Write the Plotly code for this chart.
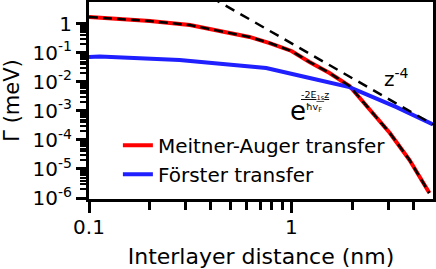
import plotly.graph_objects as go

# ---- data ----
red_x = [0.1, 0.2, 0.315, 0.5, 0.62, 0.78, 0.9, 1.0, 1.227, 1.541, 1.934, 2.436, 3.06, 3.83, 4.8]
red_y = [1.70, 1.24, 0.90, 0.48, 0.35, 0.216, 0.15, 0.115, 0.048, 0.0201, 7.2e-3, 1.07e-3, 1.73e-4, 2.03e-5, 1.49e-6]

blue_x = [0.1, 0.113, 0.28, 0.75, 1.23, 1.541, 1.934, 3.30, 4.8, 5.0]
blue_y = [0.0714, 0.074, 0.056, 0.030, 0.0136, 0.0098, 0.0066, 0.00135, 3.8e-4, 3.4e-4]

fit_x = red_x
fit_y = red_y

z4_x = [0.4, 5.0]
z4_y = [8.2, 3.4e-4]

x_tickvals = [0.1, 1]
x_ticktext = ["0.1", "1"]
y_tickvals = [1e-6, 1e-5, 1e-4, 1e-3, 1e-2, 1e-1, 1]
y_ticktext = ["10<sup>-6</sup>", "10<sup>-5</sup>", "10<sup>-4</sup>", "10<sup>-3</sup>",
              "10<sup>-2</sup>", "10<sup>-1</sup>", "1"]
x_minor = [0.2, 0.3, 0.4, 0.5, 0.6, 0.7, 0.8, 0.9, 2, 3, 4]
y_minor = [m * 10.0 ** e for e in range(-6, 0) for m in range(2, 10)]

FONT = "DejaVu Sans"

fig = go.Figure()
fig.add_trace(go.Scatter(x=red_x, y=red_y, mode="lines", name="Meitner-Auger transfer",
                         line=dict(color="#ff0000", width=4)))
fig.add_trace(go.Scatter(x=blue_x, y=blue_y, mode="lines", name="Förster transfer",
                         line=dict(color="#1f1fff", width=4)))
fig.add_trace(go.Scatter(x=fit_x, y=fit_y, mode="lines", showlegend=False,
                         line=dict(color="black", width=2.5, dash="9px,5px")))
fig.add_trace(go.Scatter(x=z4_x, y=z4_y, mode="lines", showlegend=False,
                         line=dict(color="black", width=2.5, dash="10px,7px")))

fig.add_annotation(x=0.5185, y=-1.869, xref="x", yref="y", text="z<sup>-4</sup>",
                   showarrow=False, font=dict(family=FONT, size=20, color="black"))
fig.add_annotation(x=0.030, y=-2.99, xref="x", yref="y", text="e",
                   showarrow=False, font=dict(family=FONT, size=26, color="black"))
fig.add_annotation(x=0.1165, y=-2.46, xref="x", yref="y", text="<u>-2E<sub>1s</sub>z</u>",
                   showarrow=False, font=dict(family=FONT, size=9.5, color="black"))
fig.add_annotation(x=0.111, y=-2.87, xref="x", yref="y", text="ħv<sub>F</sub>",
                   showarrow=False, font=dict(family=FONT, size=9.5, color="black"))

fig.update_layout(
    width=436, height=269,
    margin=dict(l=89, r=3, t=2, b=70, autoexpand=False),
    paper_bgcolor="white", plot_bgcolor="white",
    font=dict(family=FONT, size=20, color="black"),
    showlegend=True,
    legend=dict(x=0.084, y=0.372, xanchor="left", yanchor="top", tracegroupgap=0,
                bgcolor="rgba(0,0,0,0)", font=dict(family=FONT, size=20, color="black")),
)
fig.update_xaxes(type="log", range=[-1, 0.699], automargin=False,
                 tickvals=x_tickvals, ticktext=x_ticktext,
                 ticks="outside", ticklen=11, tickwidth=2.5, tickcolor="black",
                 ticklabelstandoff=-3,
                 showline=True, linewidth=3, linecolor="black", mirror=True,
                 showgrid=False, zeroline=False,
                 tickfont=dict(family=FONT, size=20),
                 minor=dict(tickvals=x_minor, ticks="outside", ticklen=8, tickwidth=2.5,
                            tickcolor="black", showgrid=False),
                 title=dict(text="Interlayer distance (nm)", font=dict(family=FONT, size=22)))
fig.update_yaxes(type="log", range=[-6.034, 0.747], automargin=False,
                 tickvals=y_tickvals, ticktext=y_ticktext,
                 ticks="outside", ticklen=10, tickwidth=2.5, tickcolor="black",
                 showline=True, linewidth=3, linecolor="black", mirror=True,
                 showgrid=False, zeroline=False,
                 tickfont=dict(family=FONT, size=20),
                 minor=dict(tickvals=y_minor, ticks="outside", ticklen=6, tickwidth=1.5,
                            tickcolor="black", showgrid=False),
                 title=dict(text="Γ (meV)", font=dict(family=FONT, size=21)))

fig.write_html("out.html", config={"displayModeBar": False},
               post_script="document.body.style.margin='0';")
